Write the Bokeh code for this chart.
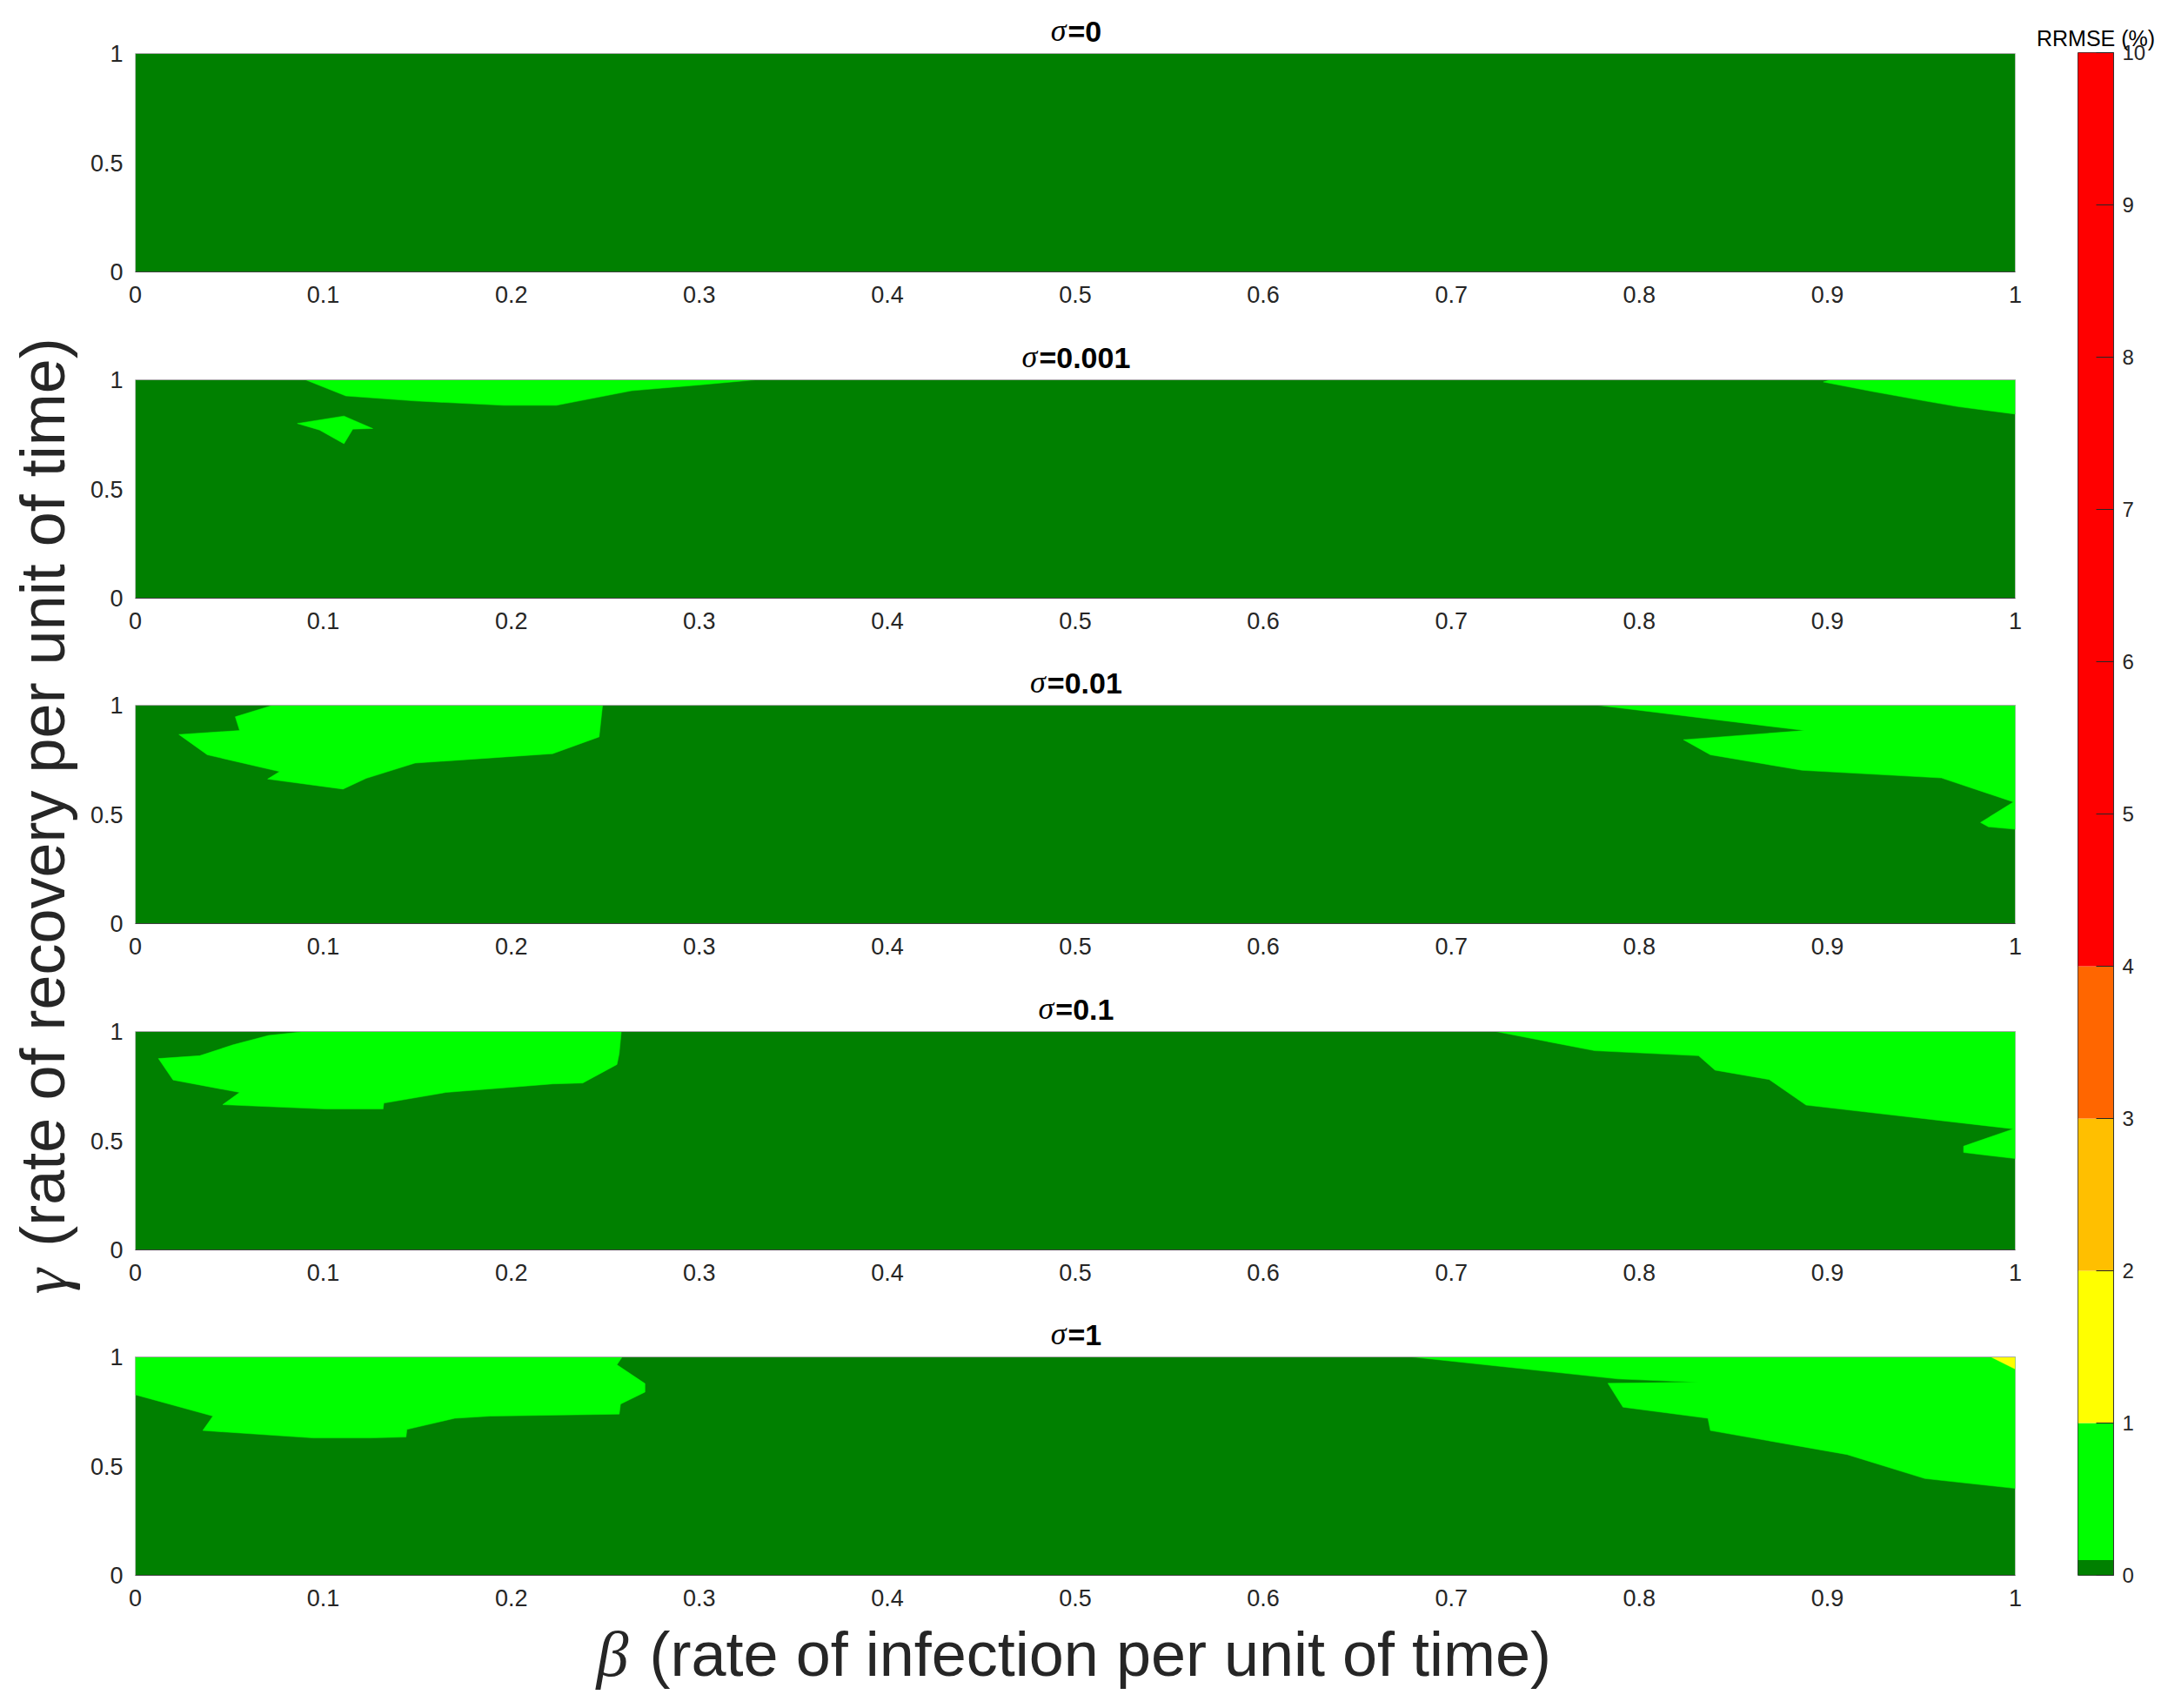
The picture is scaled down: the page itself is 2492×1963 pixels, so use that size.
import math
from bokeh.plotting import figure
from bokeh.layouts import row, column
from bokeh.models import Range1d, Label
from bokeh.embed import file_html
from bokeh.resources import INLINE

# ---------------- data ----------------
BETA_LIM = [0.0, 1.0]
GAMMA_LIM = [0.0, 1.0]
X_TICKS = [0, 0.1, 0.2, 0.3, 0.4, 0.5, 0.6, 0.7, 0.8, 0.9, 1]
X_TICK_LABELS = ["0", "0.1", "0.2", "0.3", "0.4", "0.5", "0.6", "0.7", "0.8", "0.9", "1"]
Y_TICKS = [0, 0.5, 1]
Y_TICK_LABELS = ["0", "0.5", "1"]
SIGMAS = ["0", "0.001", "0.01", "0.1", "1"]

# colour levels of RRMSE (%)
LEVELS = [0, 0.1, 1, 2, 3, 4, 10]
LEVEL_COLORS = ["#008000", "#00FF00", "#FFFF00", "#FFBF00", "#FF6600", "#FF0000"]
CB_TICKS = [0, 1, 2, 3, 4, 5, 6, 7, 8, 9, 10]
CB_TICK_LABELS = ["0", "1", "2", "3", "4", "5", "6", "7", "8", "9", "10"]

# region boundaries (beta, gamma) of the 0.1-1 % level (light green) and 1-2 % (yellow)
# sigma = 0.001
P2_TOP_BETA = [0.0905, 0.112, 0.149, 0.196, 0.224, 0.264, 0.2995, 0.33]
P2_TOP_GAMMA = [1.0, 0.926, 0.903, 0.883, 0.883, 0.950, 0.976, 1.0]
P2_ISLAND_BETA = [0.0862, 0.111, 0.1263, 0.1157, 0.111, 0.098]
P2_ISLAND_GAMMA = [0.800, 0.834, 0.777, 0.774, 0.707, 0.770]
P2_RIGHT_BETA = [0.9017, 0.8979, 0.9243, 0.952, 0.9695, 1.0, 1.0]
P2_RIGHT_GAMMA = [1.0, 0.99, 0.946, 0.903, 0.877, 0.843, 1.0]
# sigma = 0.01
P3_LEFT_BETA = [0.0732, 0.0532, 0.0555, 0.0232, 0.0383, 0.0768, 0.0704, 0.1105, 0.1228,
                0.1488, 0.222, 0.2467, 0.2484, 0.2486]
P3_LEFT_GAMMA = [1.0, 0.947, 0.884, 0.866, 0.773, 0.696, 0.662, 0.616, 0.665,
                 0.735, 0.778, 0.855, 0.987, 1.0]
P3_RIGHT_BETA = [0.778, 0.888, 0.8235, 0.8378, 0.8866, 0.9607, 0.999, 0.9815, 0.9857, 1.0, 1.0]
P3_RIGHT_GAMMA = [1.0, 0.884, 0.842, 0.773, 0.702, 0.667, 0.557, 0.463, 0.443, 0.432, 1.0]
# sigma = 0.1
P4_LEFT_BETA = [0.0905, 0.0709, 0.052, 0.0343, 0.0123, 0.0201, 0.0555, 0.0465, 0.1015, 0.1318,
                0.1322, 0.1653, 0.222, 0.238, 0.2562, 0.2574, 0.2585]
P4_LEFT_GAMMA = [1.0, 0.982, 0.939, 0.889, 0.876, 0.778, 0.721, 0.665, 0.645, 0.645,
                 0.672, 0.721, 0.760, 0.764, 0.849, 0.899, 1.0]
P4_RIGHT_BETA = [0.7237, 0.7763, 0.8315, 0.8403, 0.8691, 0.8887, 0.999, 0.9725, 0.9725, 1.0, 1.0]
P4_RIGHT_GAMMA = [1.0, 0.912, 0.889, 0.823, 0.780, 0.663, 0.554, 0.475, 0.446, 0.418, 1.0]
# sigma = 1
P5_LEFT_BETA = [0.0, 0.0, 0.0413, 0.0359, 0.0945, 0.1252, 0.144, 0.1445, 0.170, 0.1889,
                0.2574, 0.2581, 0.2711, 0.2711, 0.2562, 0.259]
P5_LEFT_GAMMA = [1.0, 0.827, 0.729, 0.663, 0.629, 0.629, 0.633, 0.668, 0.719, 0.729,
                 0.738, 0.784, 0.839, 0.878, 0.964, 1.0]
P5_RIGHT_BETA = [0.679, 0.7888, 0.8315, 0.7833, 0.7913, 0.8365, 0.8378, 0.9105, 0.9519, 1.0, 1.0]
P5_RIGHT_GAMMA = [1.0, 0.899, 0.884, 0.879, 0.770, 0.719, 0.663, 0.553, 0.443, 0.398, 1.0]
P5_YELLOW_BETA = [0.987, 1.0, 1.0]
P5_YELLOW_GAMMA = [1.0, 0.944, 1.0]

PANEL_REGIONS = [
    [],
    [(P2_TOP_BETA, P2_TOP_GAMMA, 1), (P2_ISLAND_BETA, P2_ISLAND_GAMMA, 1),
     (P2_RIGHT_BETA, P2_RIGHT_GAMMA, 1)],
    [(P3_LEFT_BETA, P3_LEFT_GAMMA, 1), (P3_RIGHT_BETA, P3_RIGHT_GAMMA, 1)],
    [(P4_LEFT_BETA, P4_LEFT_GAMMA, 1), (P4_RIGHT_BETA, P4_RIGHT_GAMMA, 1)],
    [(P5_LEFT_BETA, P5_LEFT_GAMMA, 1), (P5_RIGHT_BETA, P5_RIGHT_GAMMA, 1),
     (P5_YELLOW_BETA, P5_YELLOW_GAMMA, 2)],
]

# ---------------- layout constants (page pixels) ----------------
FW, FH = 2161, 251          # data area of one panel
EXT = 53                    # title strip above each data area (part of the frame)
PB_LEFT, PB_RIGHT = 53, 14
PB_TOPS = [8, 0, 0, 0, 0]
PB_BOTTOMS = [71, 70, 71, 70, 45]
LF_W = 100
CB_LEFT_PAGE = 2386
SANS = "Liberation Sans"
SERIF = "Liberation Serif"
TXT = "#262626"
TITLE_PX = 34
CHAR_W = {"=": 0.584, "0": 0.556, "1": 0.556, ".": 0.278}


def style_axes(p):
    for ax in (p.xaxis[0], p.yaxis[0]):
        ax.major_tick_in = 0
        ax.major_tick_out = 0
        ax.minor_tick_line_color = None
        ax.major_label_text_font = SANS
        ax.major_label_text_font_size = "27px"
        ax.major_label_text_color = TXT
    p.xaxis.ticker = X_TICKS
    p.xaxis.major_label_overrides = dict(zip(X_TICKS, X_TICK_LABELS))
    p.yaxis.ticker = Y_TICKS
    p.yaxis.major_label_overrides = dict(zip(Y_TICKS, Y_TICK_LABELS))
    p.xaxis.major_label_standoff = 16
    p.yaxis.major_label_standoff = 14
    p.xaxis.axis_line_color = "#404040"
    p.yaxis.axis_line_color = None


def make_panel(k):
    top_ext = GAMMA_LIM[1] + EXT / FH * (GAMMA_LIM[1] - GAMMA_LIM[0])
    p = figure(frame_width=FW, frame_height=FH + EXT, title=None,
               x_range=Range1d(*BETA_LIM), y_range=Range1d(GAMMA_LIM[0], top_ext),
               output_backend="svg", toolbar_location=None,
               min_border_left=PB_LEFT, min_border_right=PB_RIGHT, min_border_top=PB_TOPS[k],
               min_border_bottom=PB_BOTTOMS[k])
    p.grid.visible = False
    p.outline_line_color = None
    # lowest level fills the whole domain
    p.quad(left=[BETA_LIM[0]], right=[BETA_LIM[1]], bottom=[GAMMA_LIM[0]], top=[GAMMA_LIM[1]],
           fill_color=LEVEL_COLORS[0], line_color=None)
    regs = PANEL_REGIONS[k]
    for lvl in (1, 2):
        xs = [r[0] for r in regs if r[2] == lvl]
        ys = [r[1] for r in regs if r[2] == lvl]
        if xs:
            p.patches(xs=xs, ys=ys, fill_color=LEVEL_COLORS[lvl], line_color=LEVEL_COLORS[lvl],
                      line_width=0.5)
    # box around the data area
    p.quad(left=[BETA_LIM[0]], right=[BETA_LIM[1]], bottom=[GAMMA_LIM[0]], top=[GAMMA_LIM[1]],
           fill_color=None, line_color="#a8a8a8", line_width=1)
    style_axes(p)
    # title: italic sigma + bold value
    rest = "=" + SIGMAS[k]
    w_rest = sum(CHAR_W[c] for c in rest) * TITLE_PX
    w_sig = 0.52 * TITLE_PX
    xa = 0.5 + (w_sig - w_rest) / (2 * FW)
    ya = GAMMA_LIM[1] + 25.5 / FH
    p.add_layout(Label(x=xa, y=ya + 1 / FH, text="σ", text_align="right", text_baseline="middle",
                       text_font=SERIF, text_font_style="italic",
                       text_font_size=f"{TITLE_PX + 2}px", text_color="black"))
    p.add_layout(Label(x=xa + 2 / FW, y=ya, text=rest, text_align="left", text_baseline="middle",
                       text_font=SANS, text_font_style="bold",
                       text_font_size=f"{TITLE_PX}px", text_color="black"))
    return p


panels = [make_panel(k) for k in range(len(SIGMAS))]

# x-axis label strip (coordinates = page pixels)
PANEL_FIG_W = PB_LEFT + FW + PB_RIGHT
XL_TOP = sum(PB_TOPS) + len(SIGMAS) * (FH + EXT) + sum(PB_BOTTOMS)
XL_H = 90
xf = figure(width=PANEL_FIG_W, height=XL_H, title=None, x_range=Range1d(LF_W, LF_W + PANEL_FIG_W),
            y_range=Range1d(XL_TOP + XL_H, XL_TOP), x_axis_location=None, y_axis_location=None,
            output_backend="svg", toolbar_location=None, min_border=0, outline_line_color=None)
xf.grid.visible = False
XL_SHIFT = -36
xf.add_layout(Label(x=683 + XL_SHIFT, y=1900, text="β", text_align="left", text_baseline="middle",
                    text_font=SERIF, text_font_style="italic", text_font_size="74px",
                    text_color=TXT))
xf.add_layout(Label(x=746 + XL_SHIFT, y=1900, text="(rate of infection per unit of time)",
                    text_align="left", text_baseline="middle", text_font=SANS,
                    text_font_size="72px", text_color=TXT))

# y-axis label strip (coordinates = page pixels)
LF_H = XL_TOP + XL_H
lf = figure(width=LF_W, height=LF_H, title=None, x_range=Range1d(0, LF_W), y_range=Range1d(LF_H, 0),
            x_axis_location=None, y_axis_location=None, output_backend="svg",
            toolbar_location=None, min_border=0, outline_line_color=None)
lf.grid.visible = False
lf.add_layout(Label(x=50, y=1488, text="γ", text_align="left", text_baseline="middle",
                    angle=math.pi / 2, text_font=SERIF, text_font_style="italic",
                    text_font_size="74px", text_color=TXT))
lf.add_layout(Label(x=48, y=1431, text="(rate of recovery per unit of time)", text_align="left",
                    text_baseline="middle", angle=math.pi / 2, text_font=SANS,
                    text_font_size="72px", text_color=TXT))

# colour bar
CB_FH = 1750
cb = figure(frame_width=41, frame_height=CB_FH, title="RRMSE (%)", x_range=Range1d(0, 1),
            y_range=Range1d(LEVELS[0], LEVELS[-1]), x_axis_location=None, y_axis_location="right",
            output_backend="svg", toolbar_location=None,
            min_border_left=CB_LEFT_PAGE - (LF_W + PANEL_FIG_W), min_border_right=57,
            min_border_top=60, min_border_bottom=20)
cb.grid.visible = False
cb.outline_line_color = "#333333"
cb.title.align = "center"
cb.title.offset = -3
cb.title.text_font = SANS
cb.title.text_font_style = "normal"
cb.title.text_font_size = "25px"
cb.title.text_color = "black"
cb.title.standoff = 6
cb.quad(left=0, right=1, bottom=LEVELS[:-1], top=LEVELS[1:], fill_color=LEVEL_COLORS, line_color=None)
ax = cb.yaxis[0]
ax.ticker = CB_TICKS
ax.major_label_overrides = dict(zip(CB_TICKS, CB_TICK_LABELS))
ax.major_tick_in = 20
ax.major_tick_out = 0
ax.major_tick_line_color = "#262626"
ax.minor_tick_line_color = None
ax.axis_line_color = "#333333"
ax.major_label_standoff = 10
ax.major_label_text_font = SANS
ax.major_label_text_font_size = "24px"
ax.major_label_text_color = TXT

layout = row(lf, column(*panels, xf), cb)

with open("out.html", "w") as f:
    f.write(file_html(layout, INLINE))
